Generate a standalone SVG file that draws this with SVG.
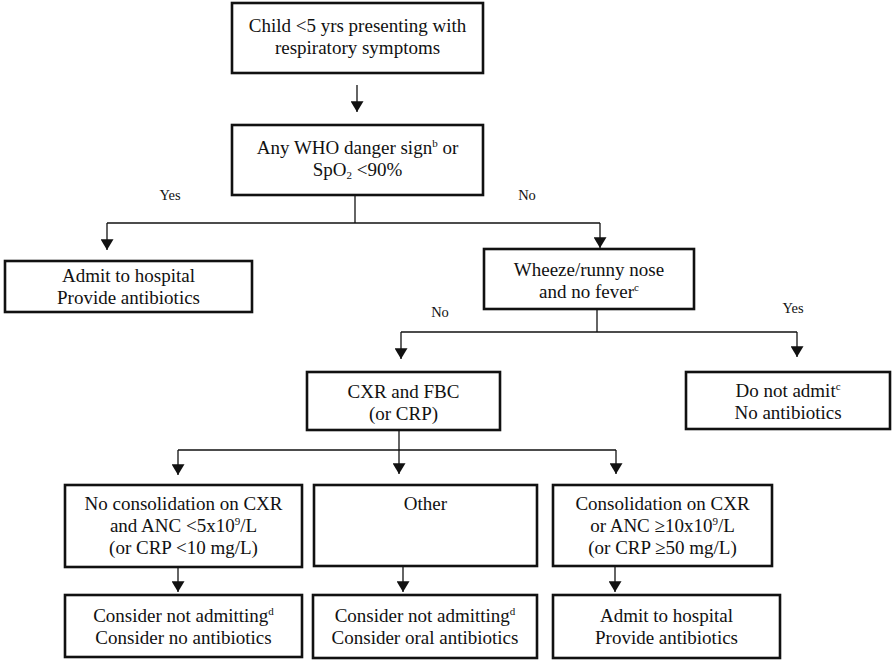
<svg xmlns="http://www.w3.org/2000/svg" width="892" height="660" viewBox="0 0 892 660">
<style>
.box{fill:#fff;stroke:#111;stroke-width:2.6}
text{font-family:'Liberation Serif','Times New Roman',Tinos,'DejaVu Serif',serif}
.t{font-size:19px;fill:#111;text-anchor:middle}
.lbl{font-size:14.5px;fill:#111;text-anchor:middle}
.sup{font-size:11px}
.sub{font-size:11px}
.c{fill:none;stroke:#111;stroke-width:1.3}
</style>
<defs>
<marker id="ah" viewBox="0 0 10 12" refX="10" refY="6" markerWidth="12" markerHeight="13" markerUnits="userSpaceOnUse" orient="auto">
<path d="M0,0 L10,6 L0,12 z" fill="#111"/>
</marker>
</defs>
<rect width="892" height="660" fill="#fff"/>
<g id="connectors">
<path class="c" d="M357,85 V112" marker-end="url(#ah)"/>
<path class="c" d="M355,195 V223"/>
<path class="c" d="M107,223 H600"/>
<path class="c" d="M107,223 V250" marker-end="url(#ah)"/>
<path class="c" d="M600,223 V248" marker-end="url(#ah)"/>
<path class="c" d="M597,309 V332"/>
<path class="c" d="M401,332 H797"/>
<path class="c" d="M401,332 V359" marker-end="url(#ah)"/>
<path class="c" d="M797,332 V357" marker-end="url(#ah)"/>
<path class="c" d="M399,430 V474" marker-end="url(#ah)"/>
<path class="c" d="M178,450 H616"/>
<path class="c" d="M178,450 V475" marker-end="url(#ah)"/>
<path class="c" d="M616,450 V474" marker-end="url(#ah)"/>
<path class="c" d="M178,567 V592" marker-end="url(#ah)"/>
<path class="c" d="M403,567 V592" marker-end="url(#ah)"/>
<path class="c" d="M615,566 V592" marker-end="url(#ah)"/>
<text class="lbl" x="170" y="200">Yes</text>
<text class="lbl" x="527" y="200">No</text>
<text class="lbl" x="440" y="317">No</text>
<text class="lbl" x="793" y="313">Yes</text>
</g>
<g id="start">
<rect class="box" x="232" y="3" width="251" height="70"/>
<text class="t" x="357.5" y="32">Child &lt;5 yrs presenting with</text>
<text class="t" x="357.5" y="54">respiratory symptoms</text>
</g>
<g id="danger">
<rect class="box" x="232" y="125" width="251" height="70"/>
<text class="t" x="357.5" y="154">Any WHO danger sign<tspan class="sup" dy="-7">b</tspan><tspan dy="7"> or</tspan></text>
<text class="t" x="357.5" y="176">SpO<tspan class="sub" dy="3">2</tspan><tspan dy="-3"> &lt;90%</tspan></text>
</g>
<g id="admit1">
<rect class="box" x="5" y="261" width="247" height="51"/>
<text class="t" x="128.5" y="282">Admit to hospital</text>
<text class="t" x="128.5" y="304">Provide antibiotics</text>
</g>
<g id="wheeze">
<rect class="box" x="484" y="249" width="210" height="60"/>
<text class="t" x="589" y="276">Wheeze/runny nose</text>
<text class="t" x="589" y="298">and no fever<tspan class="sup" dy="-7">c</tspan></text>
</g>
<g id="cxr">
<rect class="box" x="307" y="372" width="193" height="58"/>
<text class="t" x="403.5" y="398">CXR and FBC</text>
<text class="t" x="403.5" y="420">(or CRP)</text>
</g>
<g id="noadmit">
<rect class="box" x="686" y="372" width="204" height="57"/>
<text class="t" x="788" y="397">Do not admit<tspan class="sup" dy="-7">c</tspan></text>
<text class="t" x="788" y="419">No antibiotics</text>
</g>
<g id="lowrisk">
<rect class="box" x="65" y="485" width="237" height="82"/>
<text class="t" x="183.5" y="510">No consolidation on CXR</text>
<text class="t" x="183.5" y="532">and ANC &lt;5x10<tspan class="sup" dy="-7">9</tspan><tspan dy="7">/L</tspan></text>
<text class="t" x="183.5" y="554">(or CRP &lt;10 mg/L)</text>
</g>
<g id="other">
<rect class="box" x="314" y="485" width="223" height="81"/>
<text class="t" x="425.5" y="510">Other</text>
</g>
<g id="highrisk">
<rect class="box" x="553" y="485" width="219" height="81"/>
<text class="t" x="662.5" y="510">Consolidation on CXR</text>
<text class="t" x="662.5" y="532">or ANC ≥10x10<tspan class="sup" dy="-7">9</tspan><tspan dy="7">/L</tspan></text>
<text class="t" x="662.5" y="554">(or CRP ≥50 mg/L)</text>
</g>
<g id="out1">
<rect class="box" x="65" y="595" width="237" height="62"/>
<text class="t" x="183.5" y="622">Consider not admitting<tspan class="sup" dy="-7">d</tspan></text>
<text class="t" x="183.5" y="644">Consider no antibiotics</text>
</g>
<g id="out2">
<rect class="box" x="313" y="595" width="224" height="63"/>
<text class="t" x="425" y="622">Consider not admitting<tspan class="sup" dy="-7">d</tspan></text>
<text class="t" x="425" y="644">Consider oral antibiotics</text>
</g>
<g id="out3">
<rect class="box" x="553" y="595" width="227" height="63"/>
<text class="t" x="666.5" y="622">Admit to hospital</text>
<text class="t" x="666.5" y="644">Provide antibiotics</text>
</g>
</svg>
